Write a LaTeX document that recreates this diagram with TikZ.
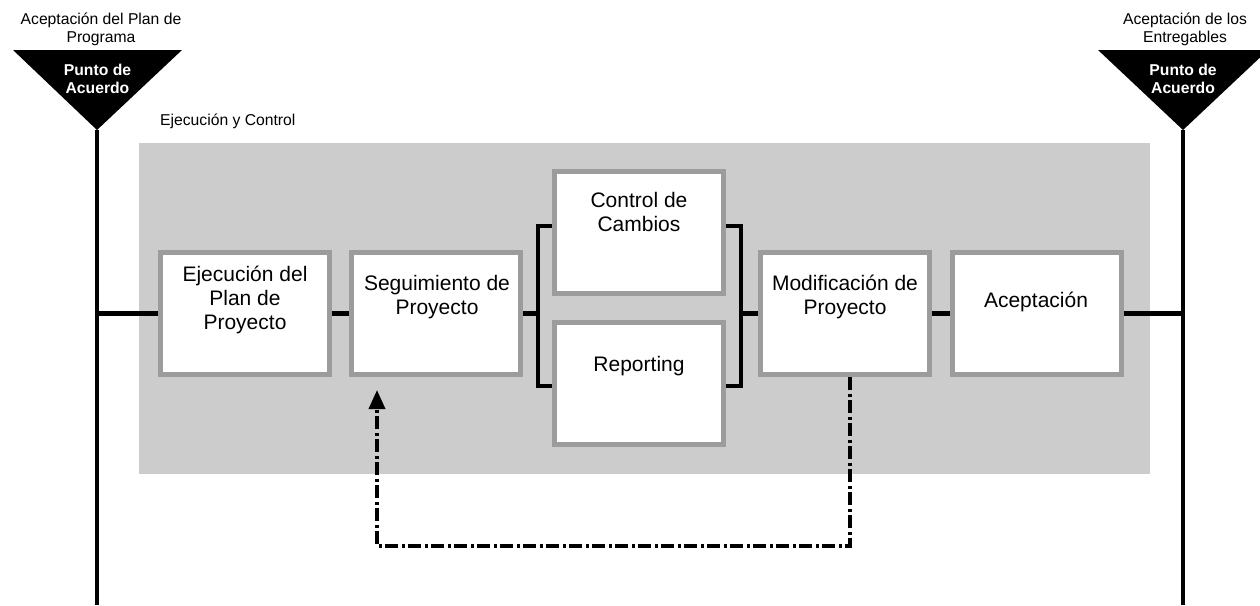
\documentclass[tikz,border=0pt]{standalone}
\usepackage{fontspec}
\setmainfont{Liberation Sans}
\usetikzlibrary{arrows.meta}
\definecolor{bggray}{HTML}{CCCCCC}
\definecolor{bordergray}{HTML}{9C9C9C}
\newcommand\mlines[1]{\begin{tabular}[t]{@{}c@{}}#1\end{tabular}}
\tikzset{
  boxnode/.style={draw=bordergray, line width=5pt, fill=white, minimum width=169pt, minimum height=122pt, inner sep=0pt},
  boxtext/.style={anchor=base, inner sep=0pt, font=\fontsize{21}{24}\selectfont},
  smalltext/.style={anchor=base, inner sep=0pt, font=\fontsize{15.7}{18}\selectfont},
  patext/.style={anchor=base, inner sep=0pt, text=white, font=\fontsize{15.7}{18}\selectfont\bfseries},
  mainline/.style={line width=4.8pt, black},
  fbline/.style={line width=3.6pt, black, dash pattern=on 13pt off 3.5pt on 3pt off 3.5pt, -{Triangle[length=19pt,width=16pt]}}
}
\begin{document}
\begin{tikzpicture}[x=1pt,y=-1pt]
\clip (0,0) rectangle (1260,605);
\fill[white] (0,0) rectangle (1260,605);
% background panel
\fill[bggray] (139,143) rectangle (1150,474);
\node[smalltext, anchor=base west] (ejc) at (160,125) {Ejecución y Control};
% agreement points
\coordinate (apexL) at (97,130);
\coordinate (apexR) at (1183,130);
\coordinate (botL) at (97,605);
\coordinate (botR) at (1183,605);
\fill[black] (13,50) -- (182,50) -- (apexL) -- cycle;
\fill[black] (1098,50) -- (1268,50) -- (apexR) -- cycle;
\node[patext] (paL) at (97.5,75) {\mlines{Punto de\\Acuerdo}};
\node[patext] (paR) at (1183,75) {\mlines{Punto de\\Acuerdo}};
\node[smalltext] (lblL) at (101,24) {\mlines{Aceptación del Plan de\\Programa}};
\node[smalltext] (lblR) at (1185,24) {\mlines{Aceptación de los\\Entregables}};
\draw[mainline] (apexL) -- (botL);
\draw[mainline] (apexR) -- (botR);
% boxes
\node[boxnode] (b1) at (245,313.5) {};
\node[boxnode] (b2) at (436,313.5) {};
\node[boxnode] (b3) at (639,232.5) {};
\node[boxnode] (b6) at (639,383) {};
\node[boxnode] (b4) at (845,313.5) {};
\node[boxnode] (b5) at (1037,313.5) {};
\node[boxtext] (t1) at (245,281) {\mlines{Ejecución del\\Plan de\\Proyecto}};
\node[boxtext] (t2) at (437,290) {\mlines{Seguimiento de\\Proyecto}};
\node[boxtext] (t3) at (639,207) {\mlines{Control de\\Cambios}};
\node[boxtext] (t6) at (639,371) {Reporting};
\node[boxtext] (t4) at (845,290) {\mlines{Modificación de\\Proyecto}};
\node[boxtext] (t5) at (1036,307) {Aceptación};
% main flow
\draw[mainline] (apexL |- b1.west) -- (b1.west);
\draw[mainline] (b1.east) -- (b2.west);
\coordinate (LBt) at (538,226);
\coordinate (LBb) at (538,386);
\coordinate (RBt) at (741,226);
\coordinate (RBb) at (741,386);
\draw[mainline] (b3.west |- LBt) -- (LBt) -- (LBb) -- (b6.west |- LBb);
\draw[mainline] (b2.east) -- (LBt |- b2.east);
\draw[mainline] (b3.east |- RBt) -- (RBt) -- (RBb) -- (b6.east |- RBb);
\draw[mainline] (RBt |- b4.west) -- (b4.west);
\draw[mainline] (b4.east) -- (b5.west);
\draw[mainline] (b5.east) -- (apexR |- b5.east);
% feedback
\coordinate (fbA) at (850,546);
\coordinate (fbB) at (377,546);
\coordinate (fbT) at (377,390);
\draw[fbline] (b4.south -| fbA) -- (fbA) -- (fbB) -- (fbT);
\end{tikzpicture}
\end{document}
